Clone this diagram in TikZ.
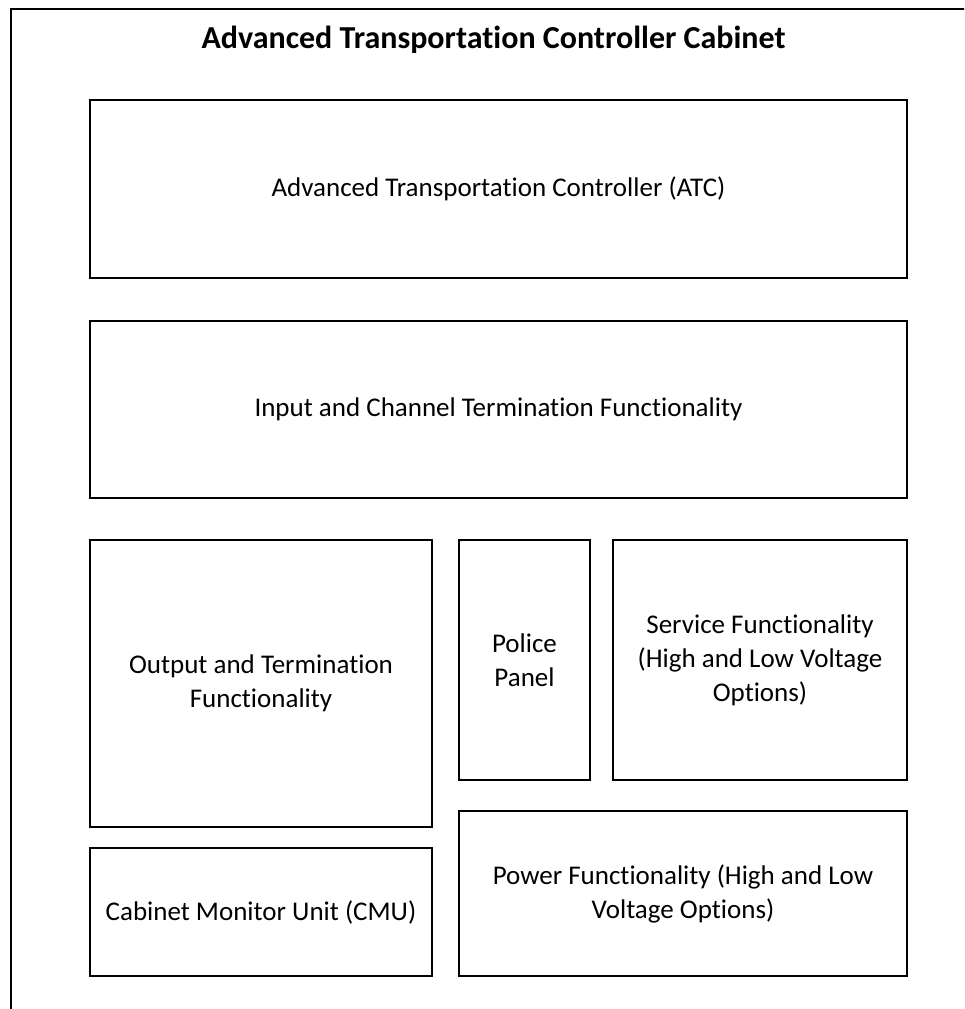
\documentclass[tikz,border=0pt]{standalone}
\usepackage{fontspec}
\setmainfont{Carlito}[Ligatures={NoCommon}]
\begin{document}
\begin{tikzpicture}[x=1pt,y=-1pt,
  frame/.style={line width=2pt},
  box/.style={draw, line width=2pt, anchor=north west, align=center, inner sep=0pt,
    font=\fontsize{27}{34}\selectfont},
  title/.style={anchor=base, font=\fontsize{32}{38}\selectfont\bfseries}]
\useasboundingbox (0,0) rectangle (964,1009);
\clip (0,0) rectangle (964,1009);
\coordinate (fb) at (11,1030);
\coordinate (ftl) at (11,9);
\coordinate (fr) at (990,9);
\draw[frame] (fb) -- (ftl) -- (fr);
\node[title] (ttl) at (493.5,48) {Advanced Transportation Controller Cabinet};
\node[box, minimum width=817pt, minimum height=178pt] (atc) at (89,99) {Advanced Transportation Controller (ATC)};
\node[box, minimum width=817pt, minimum height=177pt] (inp) at (89,320) {Input and Channel Termination Functionality};
\node[box, minimum width=342pt, minimum height=287pt] (out) at (89,539) {Output and Termination\\Functionality};
\node[box, minimum width=131pt, minimum height=240pt] (pol) at (458,539) {Police\\Panel};
\node[box, minimum width=294pt, minimum height=240pt] (srv) at (612,539) {Service Functionality\\(High and Low Voltage\\Options)};
\node[box, minimum width=448pt, minimum height=165pt] (pwr) at (458,810) {Power Functionality (High and Low\\Voltage Options)};
\node[box, minimum width=342pt, minimum height=128pt] (cmu) at (89,847) {Cabinet Monitor Unit (CMU)};
\end{tikzpicture}
\end{document}
